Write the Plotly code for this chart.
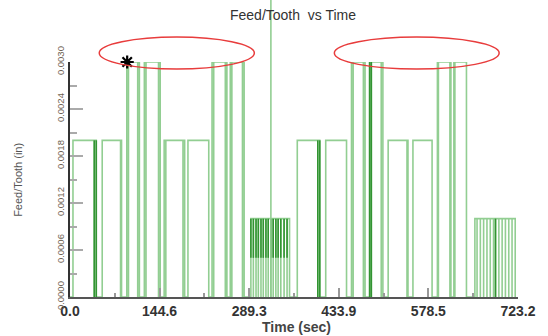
import plotly.graph_objects as go

# ---- data (time in sec, feed/tooth in inches) ----
pulse_start = [4.8, 52.0, 91.7, 120.0, 152.0, 190.4, 229.3, 258.7, 292.0,
               366.9, 412.8, 454.4, 483.7, 513.6, 553.6, 593.1, 619.7, 653.6]
pulse_end   = [42.4, 83.2, 112.0, 145.6, 185.1, 224.0, 253.3, 281.1, 354.4,
               403.2, 446.4, 476.3, 505.1, 545.6, 584.5, 614.9, 641.1, 718.7]
pulse_level = [0.002, 0.002, 0.003, 0.003, 0.002, 0.002, 0.003, 0.003, 0.001,
               0.002, 0.002, 0.003, 0.003, 0.002, 0.002, 0.003, 0.003, 0.001]
# short drops to zero inside the pulses
dips = [39.2, 81.6, 94.4, 109.3, 122.7, 142.9, 154.7, 182.4, 232.0, 250.7,
        261.3, 278.4,
        296.0, 300.3, 304.0, 308.3, 312.0, 316.3, 320.0, 324.3, 328.0, 332.3,
        336.0, 340.3, 345.6, 350.4,
        400.0, 457.1, 473.6, 486.4, 502.4, 544.0, 594.7, 613.3, 621.3, 640.0,
        657.1, 662.4, 667.7, 673.1, 678.4, 683.7, 686.9, 692.3, 697.6, 702.9,
        708.3, 713.6]
# darker (over-plotted) strokes: time, low value, high value
dark_t  = [39.2, 42.4, 400.0, 403.2, 483.7, 486.4, 686.9,
           292.0, 296.0, 300.3, 304.0, 308.3, 312.0, 316.3, 320.0, 324.3,
           328.0, 332.3, 336.0, 340.3, 345.6, 350.4]
dark_lo = [0.0, 0.0, 0.0, 0.0, 0.0, 0.0, 0.0,
           0.0005, 0.0005, 0.0005, 0.0005, 0.0005, 0.0005, 0.0005, 0.0005, 0.0005,
           0.0005, 0.0005, 0.0005, 0.0005, 0.0005, 0.0005]
dark_hi = [0.002, 0.002, 0.002, 0.002, 0.003, 0.003, 0.001,
           0.001, 0.001, 0.001, 0.001, 0.001, 0.001, 0.001, 0.001, 0.001,
           0.001, 0.001, 0.001, 0.001, 0.001, 0.001]
cursor_time = 324.3
star_time = [92.3]
star_value = [0.003]
ellipse_t0 = [47.2, 426.7]
ellipse_t1 = [297.6, 692.8]

x_tickvals = [0.0, 144.6, 289.3, 433.9, 578.5, 723.2]
x_ticktext = ["0.0", "144.6", "289.3", "433.9", "578.5", "723.2"]
x_minor = [72.3, 216.9, 361.6, 506.2, 650.9]

# ---- build the step line ----
xs, ys = [0.0], [0.0]
for s, e, lv in zip(pulse_start, pulse_end, pulse_level):
    xs += [s, s]
    ys += [0.0, lv]
    for d in dips:
        if s < d < e:
            xs += [d, d, d]
            ys += [lv, 0.0, lv]
    xs += [e, e]
    ys += [lv, 0.0]

dx, dy = [], []
for t, lo, hi in zip(dark_t, dark_lo, dark_hi):
    dx += [t, t, None]
    dy += [lo, hi, None]

light = "rgb(146,206,146)"
dark = "rgb(50,148,50)"
font = "Liberation Sans, Arial, sans-serif"

fig = go.Figure()
fig.add_trace(go.Scatter(x=xs, y=ys, mode="lines", line=dict(color=light, width=1.6),
                         cliponaxis=False, hoverinfo="skip"))
fig.add_trace(go.Scatter(x=dx, y=dy, mode="lines", line=dict(color=dark, width=1.6),
                         cliponaxis=False, hoverinfo="skip"))
fig.add_trace(go.Scatter(x=star_time, y=star_value, mode="markers",
                         marker=dict(symbol="asterisk-open", size=11, color="black",
                                     line=dict(color="black", width=2.2)),
                         cliponaxis=False))

fig.add_shape(type="line", xref="x", yref="paper", x0=cursor_time, x1=cursor_time,
              y0=0, y1=1.35, line=dict(color=light, width=1.6))
for a, b in zip(ellipse_t0, ellipse_t1):
    fig.add_shape(type="circle", xref="x", yref="paper", x0=a, x1=b,
                  y0=0.970, y1=1.106, line=dict(color="rgb(232,60,60)", width=1.5))

fig.update_layout(
    width=548, height=336, showlegend=False,
    margin=dict(l=70, r=27, t=62, b=39),
    plot_bgcolor="white", paper_bgcolor="white",
    font=dict(family=font),
    title=dict(text="Feed/Tooth\u00a0 vs Time", x=293 / 548, xanchor="center",
               y=1 - 15 / 336, yanchor="middle",
               font=dict(size=14, color="#333")),
    annotations=[
        dict(text="Feed/Tooth (in)", xref="paper", yref="paper", x=-0.1175, y=0.5,
             xanchor="center", yanchor="middle",
             textangle=-90, showarrow=False, font=dict(size=11, color="#555")),
        dict(text="Time (sec)", xref="paper", yref="paper", x=0.5055, y=-0.128,
             xanchor="center", yanchor="middle",
             showarrow=False, font=dict(size=14, color="#444", weight="bold")),
    ],
)
fig.update_xaxes(range=[0, 723.2], showline=True, linecolor="#555", linewidth=2,
                 showgrid=False, zeroline=False, ticks="inside", ticklen=9,
                 tickcolor="#999", tickwidth=1.5, tickmode="array",
                 tickvals=x_tickvals, ticktext=x_ticktext,
                 tickfont=dict(size=14, color="#333", weight="bold"),
                 minor=dict(tickmode="array", tickvals=x_minor, ticks="inside",
                            ticklen=4, tickcolor="#999", tickwidth=1.5))
fig.update_yaxes(range=[0, 0.003], showline=True, linecolor="#333", linewidth=2,
                 showgrid=False, zeroline=False, ticks="inside", ticklen=13,
                 tickcolor="#aaa", tickwidth=1.5, tick0=0, dtick=0.0006,
                 tickformat=".4f", tickangle=-90,
                 tickfont=dict(size=9.5, color="#6e6252"),
                 minor=dict(ticks="inside", ticklen=7, dtick=0.0003, tick0=0,
                            tickcolor="#aaa", tickwidth=1.5))

fig.write_html("out.html", config={"displayModeBar": False},
               post_script="document.body.style.margin='0';document.body.style.overflow='hidden';")
